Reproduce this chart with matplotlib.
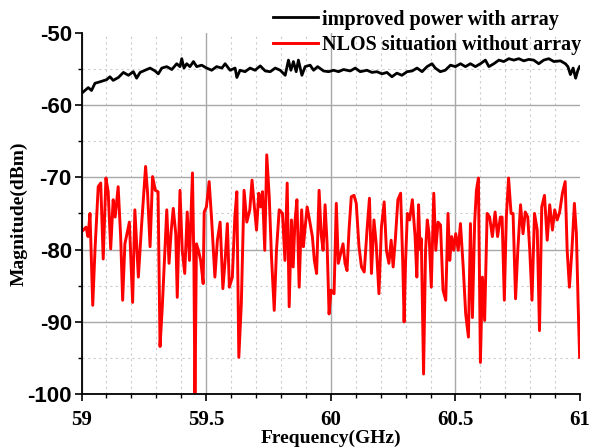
import numpy as np
import matplotlib
matplotlib.use("Agg")
import matplotlib.pyplot as plt
from matplotlib.ticker import MultipleLocator

plt.rcParams["axes.unicode_minus"] = False

# improved power with array (black)
freq_array = [
    59.007, 59.027, 59.040, 59.054, 59.074, 59.101, 59.114, 59.127, 59.148, 59.168,
    59.188, 59.208, 59.221, 59.235, 59.255, 59.275, 59.295, 59.308, 59.322, 59.342,
    59.362, 59.382, 59.395, 59.402, 59.411, 59.422, 59.435, 59.449, 59.462, 59.482,
    59.502, 59.522, 59.542, 59.563, 59.576, 59.596, 59.616, 59.623, 59.636, 59.656,
    59.676, 59.696, 59.717, 59.737, 59.757, 59.777, 59.797, 59.817, 59.830, 59.840,
    59.850, 59.861, 59.870, 59.884, 59.897, 59.917, 59.931, 59.947, 59.971, 59.991,
    60.011, 60.031, 60.051, 60.078, 60.098, 60.118, 60.145, 60.165, 60.185, 60.205,
    60.225, 60.245, 60.265, 60.285, 60.306, 60.326, 60.346, 60.366, 60.386, 60.406,
    60.419, 60.439, 60.459, 60.480, 60.500, 60.520, 60.540, 60.560, 60.580, 60.600,
    60.620, 60.634, 60.654, 60.674, 60.694, 60.714, 60.734, 60.754, 60.774, 60.794,
    60.814, 60.834, 60.854, 60.874, 60.895, 60.921, 60.941, 60.951, 60.961, 60.972,
    60.982, 60.991, 60.998,
]
power_array = [
    -58.2, -57.6, -58.0, -57.0, -56.8, -56.5, -56.1, -56.6, -56.2, -55.5,
    -55.9, -55.4, -56.3, -55.5, -55.2, -54.9, -55.3, -55.7, -54.9, -54.7,
    -55.1, -54.3, -54.7, -53.6, -54.9, -54.3, -54.7, -54.0, -54.7, -54.5,
    -54.9, -55.2, -54.7, -54.9, -54.3, -55.2, -54.9, -56.2, -55.2, -55.4,
    -54.9, -55.2, -54.6, -55.3, -55.4, -54.9, -55.2, -55.9, -53.8, -55.2,
    -54.0, -55.4, -53.8, -55.9, -54.7, -54.5, -55.2, -54.7, -55.3, -55.4,
    -55.2, -55.4, -55.1, -55.3, -54.9, -55.4, -55.2, -55.5, -55.4, -55.7,
    -55.5, -56.1, -55.6, -55.9, -55.4, -55.3, -54.9, -55.4, -54.7, -54.3,
    -54.9, -55.4, -55.2, -54.5, -54.7, -54.3, -54.7, -54.3, -54.7, -54.3,
    -53.8, -54.7, -54.3, -53.8, -54.0, -53.6, -53.8, -53.6, -53.9, -53.7,
    -53.8, -54.3, -53.8, -53.6, -54.0, -53.9, -54.3, -54.7, -55.8, -54.9,
    -56.3, -55.2, -54.7,
]

# NLOS situation without array (red)
freq_nlos = [
    59.007, 59.018, 59.026, 59.034, 59.045, 59.054, 59.067, 59.077, 59.087, 59.098,
    59.107, 59.117, 59.127, 59.135, 59.147, 59.157, 59.165, 59.174, 59.192, 59.205,
    59.214, 59.228, 59.241, 59.257, 59.265, 59.275, 59.285, 59.296, 59.307, 59.312,
    59.315, 59.324, 59.342, 59.351, 59.360, 59.368, 59.378, 59.384, 59.395, 59.404,
    59.414, 59.424, 59.433, 59.445, 59.451, 59.455, 59.461, 59.469, 59.478, 59.488,
    59.492, 59.501, 59.512, 59.522, 59.535, 59.545, 59.556, 59.567, 59.576, 59.585,
    59.593, 59.605, 59.615, 59.623, 59.631, 59.641, 59.652, 59.663, 59.675, 59.684,
    59.692, 59.702, 59.711, 59.719, 59.726, 59.735, 59.743, 59.753, 59.762, 59.773,
    59.782, 59.793, 59.806, 59.816, 59.825, 59.833, 59.842, 59.849, 59.856, 59.864,
    59.873, 59.883, 59.890, 59.896, 59.905, 59.916, 59.926, 59.934, 59.943, 59.953,
    59.961, 59.969, 59.977, 59.985, 59.993, 60.001, 60.013, 60.022, 60.030, 60.039,
    60.049, 60.057, 60.065, 60.073, 60.082, 60.093, 60.102, 60.113, 60.123, 60.134,
    60.146, 60.155, 60.163, 60.173, 60.182, 60.193, 60.203, 60.214, 60.223, 60.233,
    60.242, 60.250, 60.259, 60.269, 60.280, 60.289, 60.294, 60.300, 60.307, 60.316,
    60.327, 60.338, 60.345, 60.352, 60.358, 60.363, 60.372, 60.380, 60.387, 60.394,
    60.403, 60.413, 60.421, 60.430, 60.440, 60.450, 60.461, 60.470, 60.477, 60.485,
    60.493, 60.501, 60.511, 60.520, 60.531, 60.541, 60.552, 60.560, 60.568, 60.577,
    60.584, 60.592, 60.600, 60.608, 60.617, 60.627, 60.637, 60.648, 60.659, 60.669,
    60.680, 60.687, 60.696, 60.704, 60.713, 60.723, 60.731, 60.741, 60.750, 60.761,
    60.771, 60.780, 60.790, 60.798, 60.807, 60.817, 60.828, 60.837, 60.846, 60.857,
    60.868, 60.878, 60.889, 60.898, 60.908, 60.918, 60.929, 60.940, 60.948, 60.957,
    60.967, 60.977, 60.985, 60.992, 60.998,
]
power_nlos = [
    -77.3, -76.9, -78.2, -75.0, -87.7, -80.1, -71.3, -70.8, -81.3, -70.1,
    -72.0, -79.9, -73.1, -75.5, -71.3, -78.2, -87.0, -79.2, -76.2, -87.3,
    -74.5, -83.8, -76.6, -68.5, -72.2, -79.6, -69.9, -71.8, -72.0, -86.1,
    -93.4, -87.9, -74.5, -81.9, -77.3, -74.3, -77.8, -86.6, -71.8, -80.1,
    -83.3, -74.8, -81.5, -69.4, -82.4, -101.0, -79.2, -80.1, -81.5, -84.7,
    -74.8, -74.1, -70.6, -75.9, -83.8, -78.7, -76.2, -85.4, -81.5, -76.4,
    -85.2, -83.8, -75.5, -72.0, -94.9, -87.5, -71.8, -76.2, -74.5, -70.4,
    -73.6, -77.3, -72.2, -74.1, -72.0, -80.1, -66.9, -72.7, -81.0, -88.4,
    -80.1, -74.5, -75.0, -81.5, -70.8, -87.9, -75.9, -82.4, -76.2, -73.1,
    -85.2, -74.5, -79.6, -77.3, -74.1, -76.2, -78.2, -81.5, -83.3, -71.8,
    -77.8, -80.1, -73.8, -79.2, -88.9, -85.6, -86.1, -73.6, -81.9, -80.6,
    -79.2, -81.9, -82.9, -77.3, -72.7, -72.5, -73.6, -79.6, -82.4, -83.1,
    -76.9, -72.9, -83.3, -75.9, -79.2, -86.1, -76.9, -73.4, -80.1, -81.9,
    -78.7, -82.4, -78.5, -73.1, -72.2, -82.4, -90.0, -81.5, -75.0, -75.9,
    -73.1, -78.2, -83.8, -73.8, -80.0, -78.5, -97.2, -80.1, -75.9, -77.8,
    -85.2, -72.2, -80.1, -76.2, -76.6, -85.6, -87.0, -75.0, -81.5, -78.2,
    -80.1, -77.8, -80.1, -76.4, -82.4, -88.9, -92.1, -76.4, -89.4, -76.2,
    -71.8, -70.1, -95.6, -83.8, -89.8, -75.0, -75.5, -78.2, -74.8, -78.2,
    -75.5, -75.5, -87.0, -75.5, -70.1, -75.0, -75.0, -86.8, -80.1, -73.8,
    -77.8, -74.8, -75.5, -80.1, -87.0, -75.0, -77.3, -91.2, -74.1, -72.5,
    -78.7, -73.8, -77.3, -74.5, -75.9, -74.8, -72.2, -70.6, -80.1, -85.2,
    -80.1, -73.6, -77.8, -87.5, -94.9,
]

xticks = [59, 59.5, 60, 60.5, 61]
xtick_labels = ["59", "59.5", "60", "60.5", "61"]
yticks = [-100, -90, -80, -70, -60, -50]

fig = plt.figure(figsize=(5.95, 4.47), dpi=100)
ax = fig.add_axes([0.137, 0.118, 0.838, 0.809])

ax.plot(freq_array, power_array, color="black", lw=2.0,
        label="improved power with array")
ax.plot(freq_nlos, power_nlos, color="#ff0000", lw=2.1,
        label="NLOS situation without array")

ax.set_xlim(59, 61)
ax.set_ylim(-100, -50)
ax.set_xticks(xticks)
ax.set_xticklabels(xtick_labels)
ax.set_yticks(yticks)
ax.xaxis.set_minor_locator(MultipleLocator(0.1))
ax.yaxis.set_minor_locator(MultipleLocator(5))

ax.grid(which="major", color="#a8a8a8", lw=1.0, ls="-")
ax.grid(which="minor", color="#cccccc", lw=0.8, ls=(0, (2, 3)))
ax.set_axisbelow(True)
# no grid lines on the outer edges
for gl in ax.get_xgridlines()[-1:] + ax.get_ygridlines()[-1:]:
    gl.set_visible(False)

for side in ("top", "right"):
    ax.spines[side].set_visible(False)
for side in ("left", "bottom"):
    ax.spines[side].set_linewidth(1.3)

ax.tick_params(which="major", direction="out", length=5, width=1.2)
ax.tick_params(which="minor", direction="out", length=3, width=1.0)
ax.tick_params(axis="x", pad=6)
ax.tick_params(axis="y", pad=2)

for lab in ax.get_xticklabels():
    lab.set_fontfamily("Liberation Serif")
    lab.set_fontweight("bold")
    lab.set_fontsize(15)
for lab in ax.get_yticklabels():
    lab.set_fontfamily("Liberation Sans")
    lab.set_fontweight("bold")
    lab.set_fontsize(16)

ax.set_xlabel("Frequency(GHz)", family="Liberation Serif", weight="bold",
              fontsize=14, labelpad=0)
ax.set_ylabel("Magnitude(dBm)", family="Liberation Serif", weight="bold",
              fontsize=14)
ax.yaxis.set_label_coords(-0.108, 0.5)

ax.legend(loc="upper right", bbox_to_anchor=(1.01, 1.075), frameon=False,
          prop={"family": "Liberation Serif", "weight": "bold", "size": 14.5},
          handlelength=2.2, handletextpad=0.2, borderaxespad=0, borderpad=0.2,
          labelspacing=0.25)

fig.savefig("out.png", dpi=100)
